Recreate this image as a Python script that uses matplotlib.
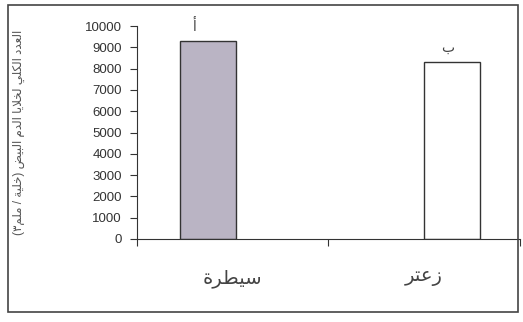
import numpy as np
import matplotlib.pyplot as plt
from matplotlib.patches import Rectangle

plt.rcParams['font.family'] = ['Liberation Sans', 'DejaVu Sans']

# data
categories = ['سيطرة', 'زعتر']
values = [9300, 8300]
letters = ['أ', 'ب']
ylabel = 'العدد الكلي لخلايا الدم البيض (خلية / ملم٣)'
yticks = list(range(0, 10001, 1000))

# minimal arabic shaping (matplotlib has no bidi / joining)
FORMS = {  # isolated, final, initial, medial
    'ا': (0xFE8D, 0xFE8E, None, None), 'أ': (0xFE83, 0xFE84, None, None),
    'د': (0xFEA9, 0xFEAA, None, None), 'ر': (0xFEAD, 0xFEAE, None, None),
    'ز': (0xFEAF, 0xFEB0, None, None), 'ة': (0xFE93, 0xFE94, None, None),
    'ب': (0xFE8F, 0xFE90, 0xFE91, 0xFE92), 'ت': (0xFE95, 0xFE96, 0xFE97, 0xFE98),
    'خ': (0xFEA5, 0xFEA6, 0xFEA7, 0xFEA8), 'س': (0xFEB1, 0xFEB2, 0xFEB3, 0xFEB4),
    'ض': (0xFEBD, 0xFEBE, 0xFEBF, 0xFEC0), 'ط': (0xFEC1, 0xFEC2, 0xFEC3, 0xFEC4),
    'ع': (0xFEC9, 0xFECA, 0xFECB, 0xFECC), 'ك': (0xFED9, 0xFEDA, 0xFEDB, 0xFEDC),
    'ل': (0xFEDD, 0xFEDE, 0xFEDF, 0xFEE0), 'م': (0xFEE1, 0xFEE2, 0xFEE3, 0xFEE4),
    'ي': (0xFEF1, 0xFEF2, 0xFEF3, 0xFEF4),
}

def dual(c):
    return c in FORMS and FORMS[c][2] is not None

def shape(s):
    out, i = [], 0
    while i < len(s):
        c = s[i]
        if c not in FORMS:
            out.append(c); i += 1; continue
        prev = s[i-1] if i > 0 else ''
        jp = dual(prev)
        if c == 'ل' and i + 1 < len(s) and s[i+1] == 'ا':
            out.append(chr(0xFEFC if jp else 0xFEFB)); i += 2; continue
        nxt = s[i+1] if i + 1 < len(s) else ''
        jn = dual(c) and nxt in FORMS
        f = FORMS[c]
        out.append(chr(f[3] if jp and jn else f[1] if jp else f[2] if jn else f[0]))
        i += 1
    vis = ''.join(out)[::-1]
    return vis.translate(str.maketrans('()', ')('))

fig = plt.figure(figsize=(5.23, 3.22), dpi=100)
ax = fig.add_axes([0.262, 0.258, 0.732, 0.661])

xpos = [0.37, 1.645]
bars = ax.bar(xpos, values, width=0.29, color=['#bab4c4', 'white'],
              edgecolor='#333333', linewidth=1.0)
for x, v, l in zip(xpos, values, letters):
    ax.text(x - (0.07 if l == 'أ' else 0.02), v + 350, shape(l), ha='center',
            va='bottom', fontsize=10, color='#444444', clip_on=False)

ax.set_xlim(0, 2)
ax.set_ylim(0, 10000)
ax.set_yticks(yticks)
ax.tick_params(axis='y', length=5, pad=6, labelsize=9.5, colors='#333333')
ax.set_xticks([0, 1, 2])
ax.set_xticklabels([])
ax.tick_params(axis='x', which='major', length=5, direction='out', colors='#333333')
ax.set_xticks([0.5, 1.5], [shape(c) for c in categories], minor=True)
ax.tick_params(axis='x', which='minor', length=0, pad=22, labelsize=14, colors='#444444')
for s in ['top', 'right']:
    ax.spines[s].set_visible(False)
ax.spines['left'].set_color('#333333')
ax.spines['bottom'].set_color('#333333')

fig.text(0.036, 0.59, shape(ylabel), rotation=90, ha='center', va='center',
         fontsize=8.6, color='#555555')

fig.patches.append(Rectangle((0.015, 0.03), 0.975, 0.955, transform=fig.transFigure,
                             fill=False, edgecolor='#444444', linewidth=1.2))

plt.savefig('out.png')
